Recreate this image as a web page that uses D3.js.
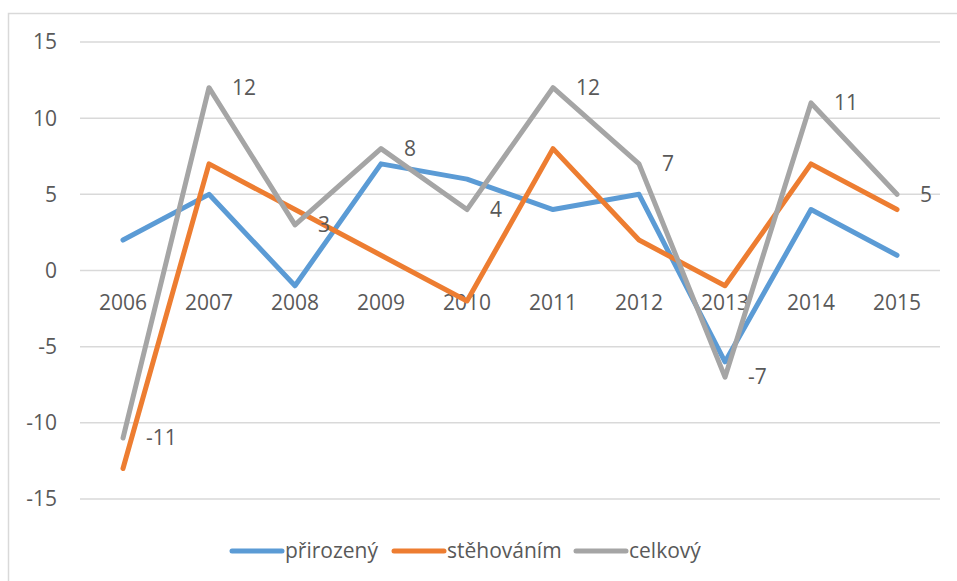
<!DOCTYPE html>
<html>
<head>
<meta charset="utf-8">
<script src="https://cdn.jsdelivr.net/npm/d3@7"></script>
<style>
  body { margin: 0; background: #fff; }
  svg text { font-family: "Open Sans", sans-serif; fill: #595959; }
</style>
</head>
<body>
<svg id="chart" width="957" height="581"></svg>
<script>
// data
var years = ["2006", "2007", "2008", "2009", "2010", "2011", "2012", "2013", "2014", "2015"];
var prirozeny = [2, 5, -1, 7, 6, 4, 5, -6, 4, 1];
var stehovanim = [-13, 7, 4, 1, -2, 8, 2, -1, 7, 4];
var celkovy = [-11, 12, 3, 8, 4, 12, 7, -7, 11, 5];
var yTicks = [-15, -10, -5, 0, 5, 10, 15];

var seriesNames = ["přirozený", "stěhováním", "celkový"];
var seriesColors = ["#5B9BD5", "#ED7D31", "#A5A5A5"];
var seriesValues = [prirozeny, stehovanim, celkovy];

var svg = d3.select("#chart");

// chart border (only left and top show in the window)
svg.append("rect")
    .attr("x", 8.5).attr("y", 13.5)
    .attr("width", 1000).attr("height", 1000)
    .attr("fill", "none")
    .attr("stroke", "#D9D9D9")
    .attr("stroke-width", 1.5);

var x = d3.scaleBand().domain(years).range([80, 940]);
var y = d3.scaleLinear().domain([-15, 15]).range([499, 42]);

// gridlines
svg.append("g")
    .selectAll("line")
    .data(yTicks)
    .enter().append("line")
    .attr("x1", 80).attr("x2", 940)
    .attr("y1", d => y(d)).attr("y2", d => y(d))
    .attr("stroke", "#D9D9D9")
    .attr("stroke-width", 1.5);

// y axis labels
svg.append("g")
    .selectAll("text")
    .data(yTicks)
    .enter().append("text")
    .attr("x", 57)
    .attr("y", d => y(d))
    .attr("dy", "0.35em")
    .attr("text-anchor", "end")
    .style("font-size", "21px")
    .text(d => d);

// category labels sit just under the zero line
svg.append("g")
    .selectAll("text")
    .data(years)
    .enter().append("text")
    .attr("x", d => x(d) + x.bandwidth() / 2)
    .attr("y", y(0) + 39)
    .attr("text-anchor", "middle")
    .style("font-size", "21px")
    .text(d => d);

var line = d3.line()
    .x((d, i) => x(years[i]) + x.bandwidth() / 2)
    .y(d => y(d));

seriesValues.forEach((vals, k) => {
    svg.append("path")
        .datum(vals)
        .attr("d", line)
        .attr("fill", "none")
        .attr("stroke", seriesColors[k])
        .attr("stroke-width", 5)
        .attr("stroke-linejoin", "round")
        .attr("stroke-linecap", "round");
});

// data labels for celkovy
svg.append("g")
    .selectAll("text")
    .data(celkovy)
    .enter().append("text")
    .attr("x", (d, i) => x(years[i]) + x.bandwidth() / 2 + 23)
    .attr("y", d => y(d))
    .attr("dy", "0.35em")
    .style("font-size", "21px")
    .text(d => d);

// legend
var legendX = [232, 394, 576];
var legend = svg.append("g")
    .selectAll("g")
    .data(seriesNames)
    .enter().append("g")
    .attr("transform", (d, i) => "translate(" + legendX[i] + ",551)");

legend.append("line")
    .attr("x1", 0).attr("x2", 50)
    .attr("stroke", (d, i) => seriesColors[i])
    .attr("stroke-width", 5)
    .attr("stroke-linecap", "round");

legend.append("text")
    .attr("x", 53)
    .attr("dy", "0.35em")
    .style("font-size", "21px")
    .text(d => d);
</script>
</body>
</html>
